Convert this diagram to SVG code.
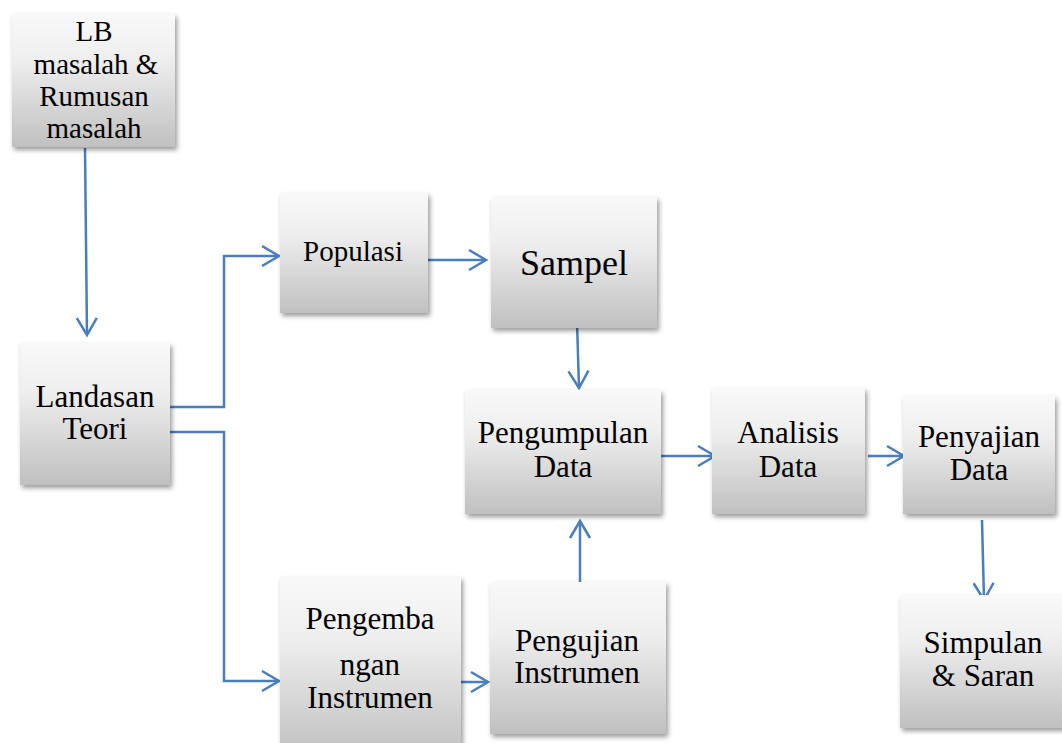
<svg xmlns="http://www.w3.org/2000/svg" width="1062" height="743" viewBox="0 0 1062 743">
<style>
.box{fill:url(#g);filter:url(#sh)}
.t{font-family:"Liberation Serif","Times New Roman",serif;font-size:31px;fill:#000;text-anchor:middle}
.c{fill:none;stroke:#4a7ebb;stroke-width:2.5;marker-end:url(#a)}
</style>
<defs>
<linearGradient id="g" x1="0" y1="0" x2="0" y2="1">
<stop offset="0" stop-color="#f9f9f9"/>
<stop offset="0.35" stop-color="#eeeeee"/>
<stop offset="1" stop-color="#c0c0c0"/>
</linearGradient>
<filter id="sh" x="-10%" y="-10%" width="125%" height="125%">
<feDropShadow dx="2" dy="3" stdDeviation="2.5" flood-color="#000" flood-opacity="0.4"/>
</filter>
<marker id="a" markerUnits="userSpaceOnUse" viewBox="-20 -12 22 24" markerWidth="22" markerHeight="24" refX="0" refY="0" orient="auto" overflow="visible">
<path d="M-17,-10 L0,0 L-17,10" fill="none" stroke="#4a7ebb" stroke-width="2.5"/>
</marker>
</defs>
<rect width="1062" height="743" fill="#fff"/>
<g id="connectors">
<path class="c" d="M85,148 L87,335"/>
<path class="c" d="M170,407 H224 V256 H279"/>
<path class="c" d="M170,432 H224 V681 H279"/>
<path class="c" d="M425,260 H486"/>
<path class="c" d="M577,322 L579,388"/>
<path class="c" d="M580,584 L580,521"/>
<path class="c" d="M455,682 H488"/>
<path class="c" d="M661,456 H715"/>
<path class="c" d="M868,456 H904"/>
<path class="c" d="M982,520 L984,600"/>
</g>
<g id="lb">
<rect class="box" x="12" y="14" width="163" height="133"/>
<text class="t" style="font-size:29px" x="94" y="41">LB</text>
<text class="t" style="font-size:29px" x="96" y="74">masalah &amp;</text>
<text class="t" style="font-size:29px" x="94" y="106">Rumusan</text>
<text class="t" style="font-size:29px" x="94" y="138">masalah</text>
</g>
<g id="landasan">
<rect class="box" x="20" y="343" width="150" height="142"/>
<text class="t" x="95" y="407">Landasan</text>
<text class="t" x="95" y="439">Teori</text>
</g>
<g id="populasi">
<rect class="box" x="280" y="193" width="148" height="120"/>
<text class="t" style="font-size:29px" x="353" y="261">Populasi</text>
</g>
<g id="sampel">
<rect class="box" x="491" y="197" width="166" height="131"/>
<text class="t" style="font-size:36px" x="574" y="275">Sampel</text>
</g>
<g id="pengumpulan">
<rect class="box" x="465" y="390" width="196" height="124"/>
<text class="t" x="563" y="443">Pengumpulan</text>
<text class="t" x="563" y="477">Data</text>
</g>
<g id="analisis">
<rect class="box" x="712" y="388" width="153" height="126"/>
<text class="t" x="788" y="443">Analisis</text>
<text class="t" x="788" y="477">Data</text>
</g>
<g id="penyajian">
<rect class="box" x="903" y="396" width="152" height="118"/>
<text class="t" x="979" y="447">Penyajian</text>
<text class="t" x="979" y="480">Data</text>
</g>
<g id="simpulan">
<rect class="box" x="900" y="595" width="166" height="133"/>
<text class="t" x="983" y="653">Simpulan</text>
<text class="t" x="983" y="686">&amp; Saran</text>
</g>
<g id="pengembangan">
<rect class="box" x="280" y="577" width="181" height="180"/>
<text class="t" x="370" y="629">Pengemba</text>
<text class="t" x="370" y="675">ngan</text>
<text class="t" x="370" y="708">Instrumen</text>
</g>
<g id="pengujian">
<rect class="box" x="490" y="582" width="176" height="152"/>
<text class="t" x="577" y="651">Pengujian</text>
<text class="t" x="577" y="683">Instrumen</text>
</g>
</svg>
